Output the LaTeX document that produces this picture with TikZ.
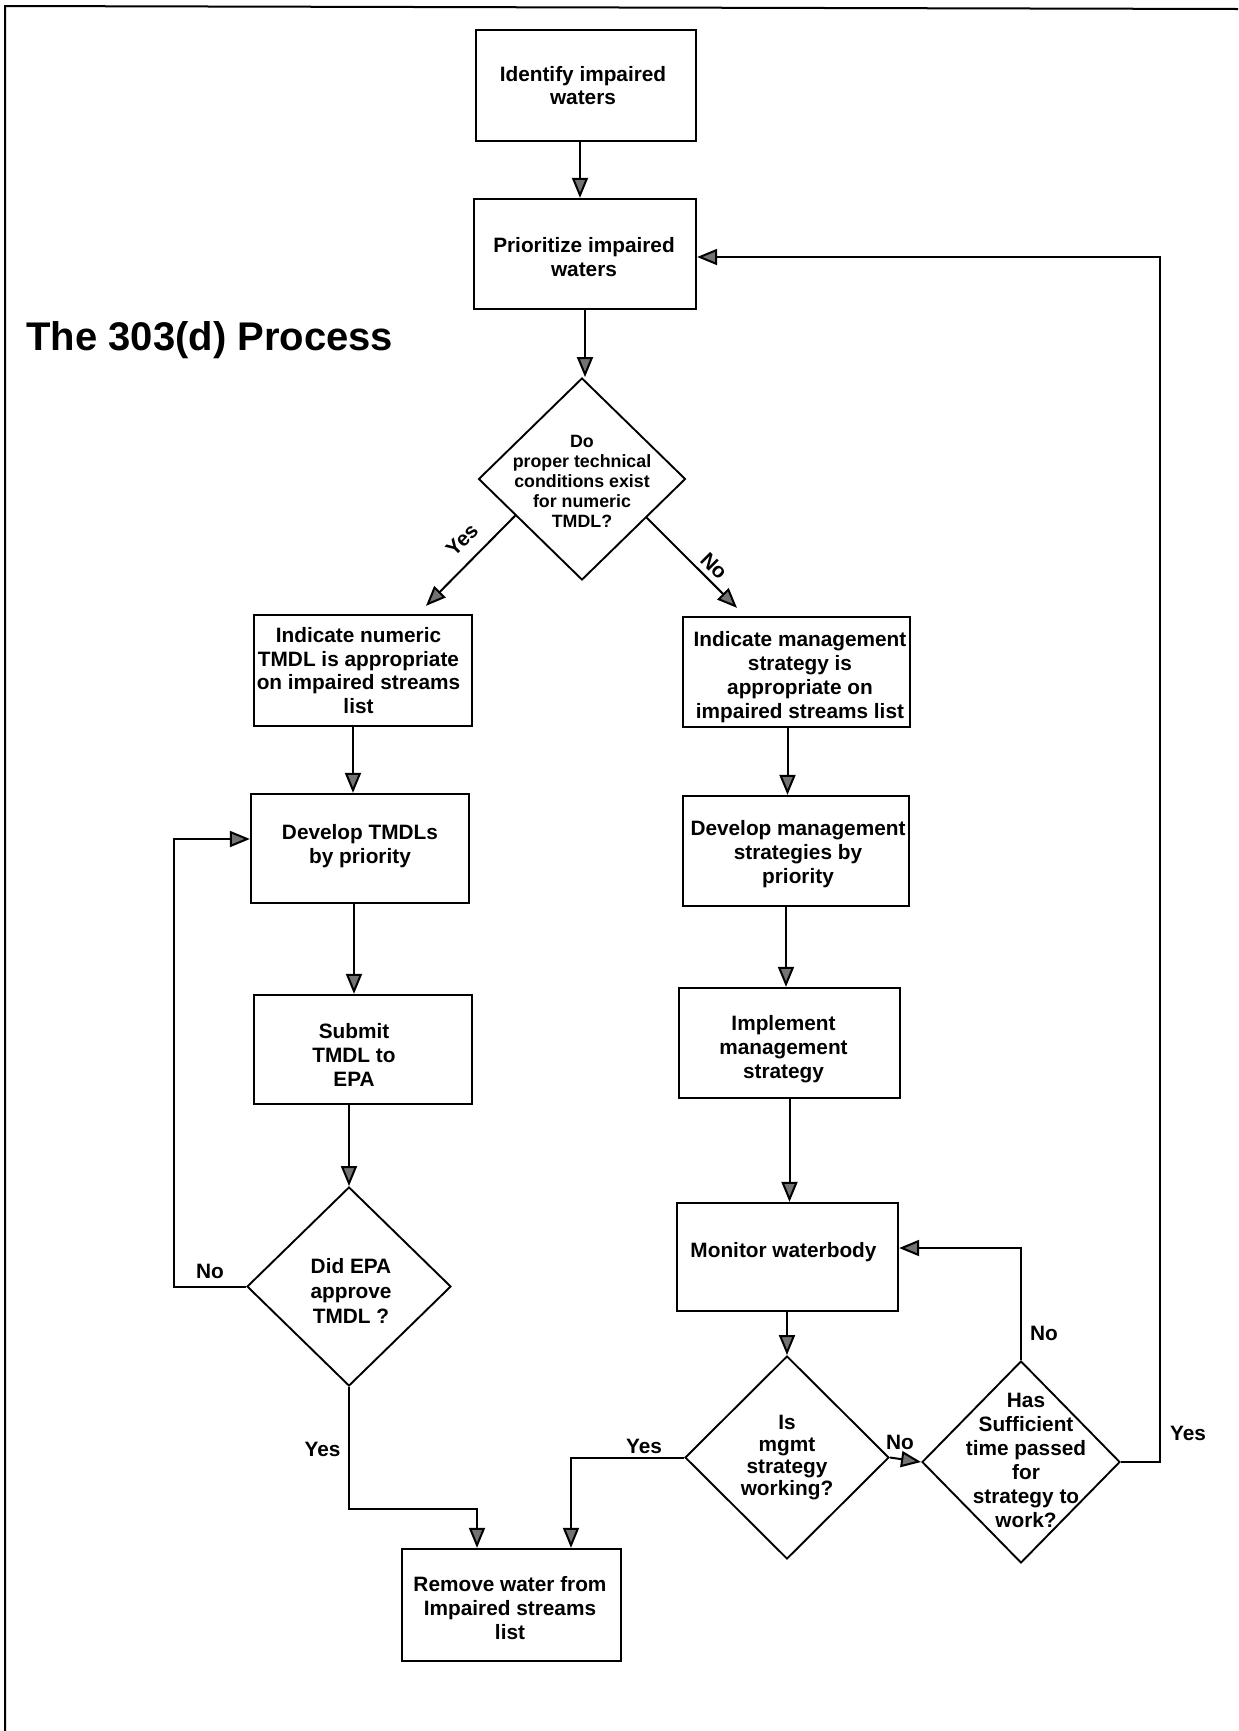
\documentclass[tikz,border=0pt]{standalone}
\usepackage{fontspec}
\setmainfont{Liberation Sans}
\usetikzlibrary{shapes.geometric,arrows.meta,calc}
\begin{document}
\begin{tikzpicture}[x=0.5pt,y=-0.5pt,
  every node/.style={font=\bfseries\fontsize{10.4}{11.9}\selectfont, align=center},
  stepbox/.style={draw, line width=1.15pt, rectangle, inner sep=0pt},
  decision/.style={draw, line width=0.95pt, diamond, inner sep=0pt},
  flow/.style={line width=1pt, -{Triangle[length=10pt,width=8pt,fill=black!55]}},
  lbl/.style={inner sep=0pt},
  dtext/.style={inner sep=0pt}
]
\useasboundingbox (0,0) rectangle (1238,1731);

% page frame (top and left edges)
\draw[line width=1pt] (5,1731) -- (5,6) -- (1238,9);

% title
\node[anchor=base west, inner sep=0pt, font=\bfseries\fontsize{20}{24}\selectfont] (title) at (26,350) {The 303(d) Process};

% process boxes
\node[stepbox, minimum width=110pt, minimum height=55.5pt] (A) at (586,85.5) {};
\node[dtext] (At) at (583,85.5) {Identify impaired\\waters};
\node[stepbox, minimum width=111pt, minimum height=55pt] (B) at (585,254) {};
\node[dtext] (Bt) at (584,257) {Prioritize impaired\\waters};
\node[stepbox, minimum width=109pt, minimum height=55.5pt] (D) at (363,670.5) {};
\node[dtext] (Dt) at (358.5,670.5) {Indicate numeric\\TMDL is appropriate\\on impaired streams\\list};
\node[stepbox, minimum width=113.5pt, minimum height=55pt] (E) at (796.5,672) {};
\node[dtext] (Et) at (800,677) {Indicate management\\strategy is\\appropriate on\\impaired streams list};
\node[stepbox, minimum width=109pt, minimum height=54.5pt] (F) at (360,848.5) {};
\node[dtext] (Ft) at (360,846.5) {Develop TMDLs\\by priority};
\node[stepbox, minimum width=113pt, minimum height=55pt] (G) at (796,851) {};
\node[dtext] (Gt) at (798,854) {Develop management\\strategies by\\priority};
\node[stepbox, minimum width=109pt, minimum height=54.5pt] (H) at (363,1049.5) {};
\node[dtext] (Ht) at (354,1055) {Submit\\TMDL to\\EPA};
\node[stepbox, minimum width=110.5pt, minimum height=55pt] (I) at (789.5,1043) {};
\node[dtext] (It) at (783.5,1049) {Implement\\management\\strategy};
\node[stepbox, minimum width=110.5pt, minimum height=54pt] (K) at (787.5,1257) {};
\node[dtext] (Kt) at (783.5,1252) {Monitor waterbody};
\node[stepbox, minimum width=109.5pt, minimum height=56pt] (N) at (511.5,1605) {};
\node[dtext] (Nt) at (510,1608) {Remove water from\\Impaired streams\\list};

% decisions
\node[decision, minimum width=103.5pt, minimum height=101pt] (C) at (582,479) {};
\node[dtext, font=\bfseries\fontsize{8.9}{10}\selectfont] (Ct) at (582,481) {Do\\proper technical\\conditions exist\\for numeric\\TMDL?};
\node[decision, minimum width=102pt, minimum height=99.5pt] (J) at (349,1286.5) {};
\node[dtext, font=\bfseries\fontsize{10.4}{12.4}\selectfont] (Jt) at (351,1291) {Did EPA\\approve\\TMDL ?};
\node[decision, minimum width=102pt, minimum height=101.5pt] (L) at (787,1457.5) {};
\node[dtext, font=\bfseries\fontsize{10.4}{11}\selectfont] (Lt) at (787,1458) {Is\\mgmt\\strategy\\working?};
\node[decision, minimum width=99pt, minimum height=101pt] (M) at (1021,1462) {};
\node[dtext, font=\bfseries\fontsize{10.4}{12}\selectfont] (Mt) at (1026,1460) {Has\\Sufficient\\time passed\\for\\strategy to\\work?};

% main spine
\draw[flow] ([xshift=-3pt]A.south) -- ([xshift=-3pt]A.south |- B.north);
\draw[flow] (B.south) -- (B.south |- C.north);

% first decision branches
\coordinate (cy) at ($(C.west)!0.36!(C.south)$);
\coordinate (dy) at ($(D.north)+(63,-8)$);
\draw[flow] (cy) -- (dy);
\node[lbl, rotate=45] (yesC) at (462,540) {Yes};
\coordinate (cn) at ($(C.east)!0.38!(C.south)$);
\coordinate (en) at ($(E.north)+(-59.5,-8)$);
\draw[flow] (cn) -- (en);
\node[lbl, rotate=-45] (noC) at (714,566) {No};

% numeric TMDL column
\draw[flow] ([xshift=-5pt]D.south) -- ([xshift=-5pt]D.south |- F.north);
\draw[flow] ([xshift=-3pt]F.south) -- ([xshift=-3pt]F.south |- H.north);
\draw[flow] (H.south -| J.north) -- (J.north);
\coordinate (jn) at (174,839);
\draw[flow] (J.west) -| (jn) -- (jn -| F.west);
\node[lbl] (noJ) at (210,1271) {No};
\coordinate (jy) at (477,1508.6);
\draw[flow] (J.south) |- (jy) -- (jy |- N.north);
\node[lbl] (yesJ) at (322.5,1449) {Yes};

% management strategy column
\draw[flow] ([xshift=-4.5pt]E.south) -- ([xshift=-4.5pt]E.south |- G.north);
\draw[flow] ([xshift=-5pt]G.south) -- ([xshift=-5pt]G.south |- I.north);
\draw[flow] (I.south) -- (I.south |- K.north);
\draw[flow] (K.south -| L.north) -- (L.north);

% loop-back decisions
\coordinate (ly) at (571,1456);
\draw[flow] (L.west) -| (ly |- N.north);
\node[lbl] (yesL) at (644,1446) {Yes};
\draw[flow] (L.east) -- (M.west);
\node[lbl] (noL) at (900,1442) {No};
\draw[flow] (M.north) |- ([yshift=4.5pt]K.east);
\node[lbl] (noM) at (1044,1333) {No};
\coordinate (my) at (1159.6,257);
\draw[flow] (M.east) -| (my) -- (my -| B.east);
\node[lbl] (yesM) at (1188,1433.5) {Yes};
\end{tikzpicture}
\end{document}
